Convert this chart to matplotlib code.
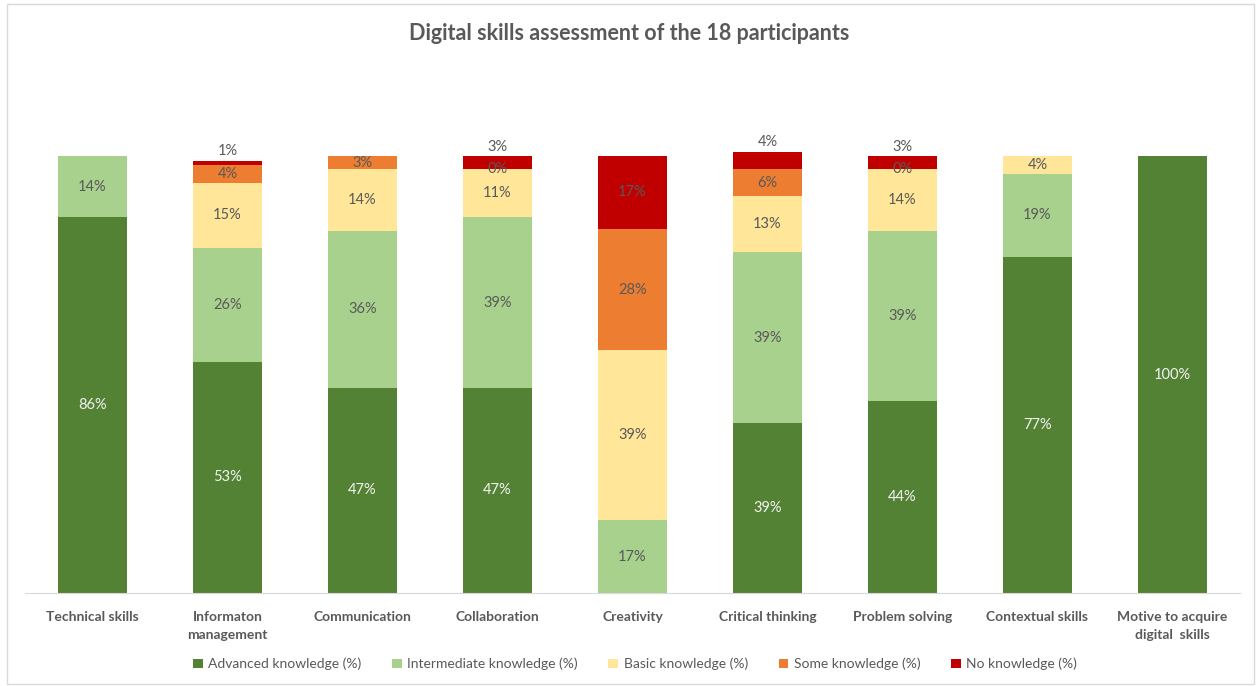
import matplotlib
matplotlib.use("Agg")
import matplotlib.pyplot as plt
from matplotlib.patches import Rectangle
import numpy as np

categories = ["Technical skills", "Informaton\nmanagement", "Communication", "Collaboration",
              "Creativity", "Critical thinking", "Problem solving", "Contextual skills",
              "Motive to acquire\ndigital  skills"]
series_names = ["Advanced knowledge (%)", "Intermediate knowledge (%)", "Basic knowledge (%)",
                "Some knowledge (%)", "No knowledge (%)"]
# None = no value (no label), 0 = explicit zero (labelled)
advanced     = [86, 53, 47, 47, None, 39, 44, 77, 100]
intermediate = [14, 26, 36, 39, 16.7, 39, 39, 19, None]
basic        = [None, 15, 14, 11, 38.9, 13, 14, 4, None]
some         = [None, 4, 3, 0, 27.8, 6, 0, None, None]
no_knowledge = [None, 1, None, 3, 16.7, 4, 3, None, None]
colors = ["#548235", "#A9D18E", "#FFE699", "#ED7D31", "#C00000"]

plt.rcParams['font.family'] = ['Lato', 'DejaVu Sans']
fig = plt.figure(figsize=(12.58, 6.86), dpi=100)
W, H = 1258, 686
ax = fig.add_axes([25 / W, (H - 593) / H, 1215 / W, 524 / H])

series = [advanced, intermediate, basic, some, no_knowledge]
x = np.arange(len(categories))
bottom = np.zeros(len(categories))
label_gray = "#595959"
for si, (vals, col, name) in enumerate(zip(series, colors, series_names)):
    v = np.array([0 if a is None else a for a in vals], dtype=float)
    ax.bar(x, v, 0.51, bottom=bottom, color=col, label=name, linewidth=0)
    for i, a in enumerate(vals):
        if a is None:
            continue
        tc = "#F2F2F2" if si == 0 else label_gray
        if si == 4 and a < 5:
            ypos = bottom[i] + v[i] + 2.2
        else:
            ypos = bottom[i] + v[i] / 2
        ax.text(x[i], ypos, f"{a:.0f}%", ha="center", va="center", fontsize=10.5, color=tc)
    bottom += v

ax.set_xlim(-0.5, len(categories) - 0.5)
ax.set_ylim(0, 120)
ax.set_yticks([])
for s in ["left", "right", "top"]:
    ax.spines[s].set_visible(False)
ax.spines["bottom"].set_color("#D9D9D9")
ax.set_xticks(x)
ax.set_xticklabels(categories, fontsize=10, color=label_gray, fontweight="bold", linespacing=1.6)
ax.tick_params(axis="x", length=0, pad=13)

fig.text(0.5, 1 - 33 / H, "Digital skills assessment of the 18 participants", ha="center", va="center",
         fontsize=15.5, fontweight="bold", color=label_gray)

leg = fig.legend(loc="center", bbox_to_anchor=(635 / W, 1 - 664 / H), ncol=5, frameon=False,
                 fontsize=10, handlelength=0.7, handleheight=0.7, columnspacing=2.2, handletextpad=0.4)
for t in leg.get_texts():
    t.set_color(label_gray)

fig.patches.append(Rectangle((7 / W, 2 / H), 1247 / W, 680 / H, transform=fig.transFigure,
                             fill=False, edgecolor="#D9D9D9", linewidth=1))
fig.savefig("out.png", dpi=100)
